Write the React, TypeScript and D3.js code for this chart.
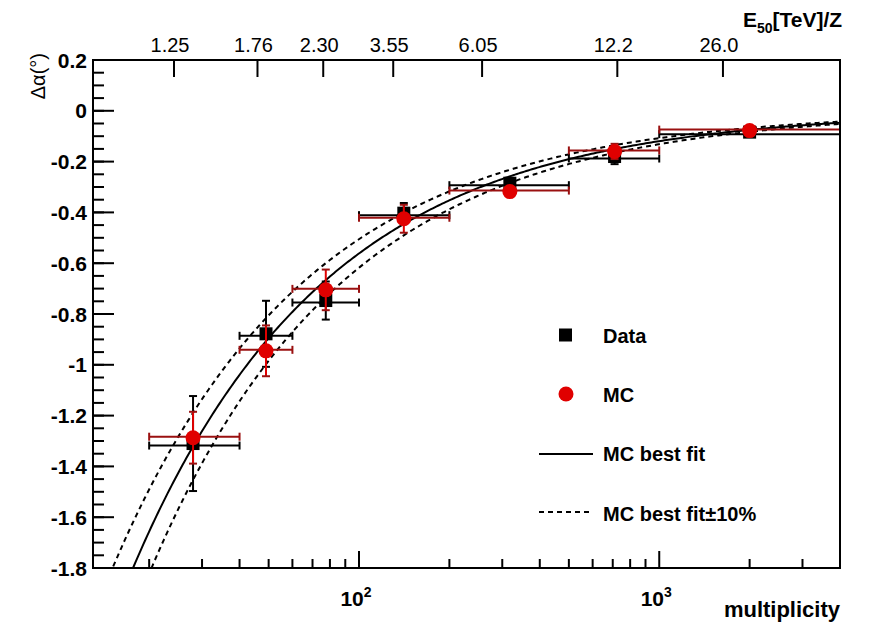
import React from "react";
import * as d3 from "d3";

// ---- data ----
const binLow = [20, 40, 60, 100, 200, 500, 1000];
const binHigh = [40, 60, 100, 200, 500, 1000, 4000];
const binCenter = [28, 49, 77.5, 141, 318, 710, 2000];
const dataY = [-1.31, -0.878, -0.747, -0.403, -0.285, -0.18, -0.084];
const dataErr = [0.187, 0.13, 0.075, 0.04, 0.015, 0.03, 0.012];
const mcY = [-1.287, -0.945, -0.705, -0.425, -0.318, -0.16, -0.078];
const mcErr = [0.102, 0.1, 0.08, 0.055, 0.012, 0.03, 0.01];

// fit: dAlpha = -A * N^-p
const fitA = 12.4;
const fitP = 0.672;
const fitBand = 0.1;

const yMajorTicks = [0.2, 0, -0.2, -0.4, -0.6, -0.8, -1, -1.2, -1.4, -1.6, -1.8];
const yMajorLabels = ["0.2", "0", "-0.2", "-0.4", "-0.6", "-0.8", "-1", "-1.2", "-1.4", "-1.6", "-1.8"];
const xMajorTicks = [100, 1000];
const xMajorExp = ["2", "3"];
const xMinorTicks = [20, 30, 40, 50, 60, 70, 80, 90, 200, 300, 400, 500, 600, 700, 800, 900, 2000, 3000];
const topTickMult = [24.2, 45.9, 76, 130, 257, 725, 1630];
const topTickLabels = ["1.25", "1.76", "2.30", "3.55", "6.05", "12.2", "26.0"];

const W = 873, H = 624;
const L = 93, R = 840, T = 60, B = 568;
const FONT = "'Liberation Sans', Arial, Helvetica, sans-serif";

export default function App() {
  const x = d3.scaleLog().domain([13, 4000]).range([L, R]);
  const y = d3.scaleLinear().domain([-1.8, 0.2]).range([B, T]);

  const yMinor = d3.range(0, 41).map((i) => 0.2 - i * 0.05);

  const fitN = d3.range(0, 401).map((i) => 13 * Math.pow(4000 / 13, i / 400));
  const fitF = (n: number) => -fitA * Math.pow(n, -fitP);
  const lineK = (k: number) =>
    d3
      .line<number>()
      .x((n) => x(n))
      .y((n) => y(k * fitF(n)))(fitN) || "";

  const cap = 4;
  const red = "#e00000";
  const darkRed = "#9a1010";

  return (
    <svg
      width={W}
      height={H}
      style={{ position: "absolute", left: 0, top: 0, background: "#fff" }}
      fontFamily={FONT}
    >
      <defs>
        <clipPath id="plotclip">
          <rect x={L} y={T} width={R - L} height={B - T} />
        </clipPath>
      </defs>

      {/* fit curves */}
      <g clipPath="url(#plotclip)" fill="none" stroke="#000">
        <path d={lineK(1)} strokeWidth={2} />
        <path d={lineK(1 - fitBand)} strokeWidth={2} strokeDasharray="5,4" />
        <path d={lineK(1 + fitBand)} strokeWidth={2} strokeDasharray="5,4" />
      </g>

      {/* data error bars */}
      <g stroke="#000" strokeWidth={2} clipPath="url(#plotclip)">
        {dataY.map((v, i) => {
          const cx = x(binCenter[i]);
          const cy = y(v) + 2;
          const x0 = x(binLow[i]);
          const x1 = x(binHigh[i]);
          const yt = y(v + dataErr[i]);
          const yb = y(v - dataErr[i]);
          return (
            <g key={"de" + i}>
              <line x1={x0} x2={x1} y1={cy} y2={cy} />
              <line x1={x0} x2={x0} y1={cy - cap} y2={cy + cap} />
              <line x1={x1} x2={x1} y1={cy - cap} y2={cy + cap} />
              <line x1={cx} x2={cx} y1={yt} y2={yb} />
              <line x1={cx - cap} x2={cx + cap} y1={yt} y2={yt} />
              <line x1={cx - cap} x2={cx + cap} y1={yb} y2={yb} />
            </g>
          );
        })}
      </g>
      {/* data markers */}
      <g fill="#000">
        {dataY.map((v, i) => (
          <rect key={"dm" + i} x={x(binCenter[i]) - 6.5} y={y(v) - 6.5} width={13} height={13} />
        ))}
      </g>

      {/* MC error bars */}
      <g stroke={darkRed} strokeWidth={2} clipPath="url(#plotclip)">
        {mcY.map((v, i) => {
          const cx = x(binCenter[i]);
          const cy = y(v) - 1;
          const x0 = x(binLow[i]);
          const x1 = x(binHigh[i]);
          const yt = y(v + mcErr[i]);
          const yb = y(v - mcErr[i]);
          return (
            <g key={"me" + i}>
              <line x1={x0} x2={x1} y1={cy} y2={cy} />
              <line x1={x0} x2={x0} y1={cy - cap} y2={cy + cap} />
              <line x1={x1} x2={x1} y1={cy - cap} y2={cy + cap} />
              <line x1={cx} x2={cx} y1={yt} y2={yb} stroke={red} />
              <line x1={cx - cap} x2={cx + cap} y1={yt} y2={yt} />
              <line x1={cx - cap} x2={cx + cap} y1={yb} y2={yb} />
            </g>
          );
        })}
      </g>
      <g fill={red}>
        {mcY.map((v, i) => (
          <circle key={"mm" + i} cx={x(binCenter[i])} cy={y(v)} r={7.5} />
        ))}
      </g>

      {/* frame */}
      <rect x={L} y={T} width={R - L} height={B - T} fill="none" stroke="#000" strokeWidth={2} />

      {/* y axis ticks */}
      <g stroke="#000" strokeWidth={2}>
        {yMinor.map((v, i) => (
          <line key={"ym" + i} x1={L} x2={L + 11} y1={y(v)} y2={y(v)} />
        ))}
        {yMajorTicks.map((v, i) => (
          <line key={"yM" + i} x1={L} x2={L + 21} y1={y(v)} y2={y(v)} />
        ))}
      </g>
      <g fontSize={21} fontWeight="bold" textAnchor="end" fill="#000">
        {yMajorTicks.map((v, i) => (
          <text key={"yl" + i} x={87} y={y(v) + 7.5}>
            {yMajorLabels[i]}
          </text>
        ))}
      </g>
      <text
        transform={`translate(45,53) rotate(-90)`}
        textAnchor="end"
        fontSize={20}
        fill="#000"
      >
        Δα(°)
      </text>

      {/* bottom axis */}
      <g stroke="#000" strokeWidth={2}>
        {xMinorTicks.map((v, i) => (
          <line key={"xm" + i} x1={x(v)} x2={x(v)} y1={B} y2={B - 9} />
        ))}
        {xMajorTicks.map((v, i) => (
          <line key={"xM" + i} x1={x(v)} x2={x(v)} y1={B} y2={B - 17} />
        ))}
      </g>
      <g fontSize={21} fontWeight="bold" fill="#000">
        {xMajorTicks.map((v, i) => (
          <text key={"xl" + i} x={x(v) - 3} y={606} textAnchor="middle">
            10
            <tspan dy={-9} fontSize={14}>
              {xMajorExp[i]}
            </tspan>
          </text>
        ))}
      </g>
      <text x={840} y={617} textAnchor="end" fontSize={22} fontWeight="bold">
        multiplicity
      </text>

      {/* top axis */}
      <g stroke="#000" strokeWidth={2}>
        {topTickMult.map((v, i) => (
          <line key={"tt" + i} x1={x(v)} x2={x(v)} y1={T} y2={T + 17} />
        ))}
      </g>
      <g fontSize={20} fill="#000" textAnchor="middle">
        {topTickLabels.map((s, i) => (
          <text key={"tl" + i} x={x(topTickMult[i]) - 4} y={52}>
            {s}
          </text>
        ))}
      </g>
      <text x={743} y={27} fontSize={21} fontWeight="bold">
        E
        <tspan dy={6} fontSize={14}>
          50
        </tspan>
        <tspan dy={-6}>[TeV]/Z</tspan>
      </text>

      {/* legend */}
      <g fontSize={20} fontWeight="bold" fill="#000">
        <rect x={559} y={328.5} width={13} height={13} fill="#000" />
        <text x={603} y={343}>Data</text>
        <circle cx={566} cy={394} r={7.5} fill={red} />
        <text x={603} y={402}>MC</text>
        <line x1={539} x2={593} y1={454} y2={454} stroke="#000" strokeWidth={2} />
        <text x={603} y={461}>MC best fit</text>
        <line x1={539} x2={593} y1={512} y2={512} stroke="#000" strokeWidth={2} strokeDasharray="5,4" />
        <text x={603} y={521}>MC best fit±10%</text>
      </g>
    </svg>
  );
}
